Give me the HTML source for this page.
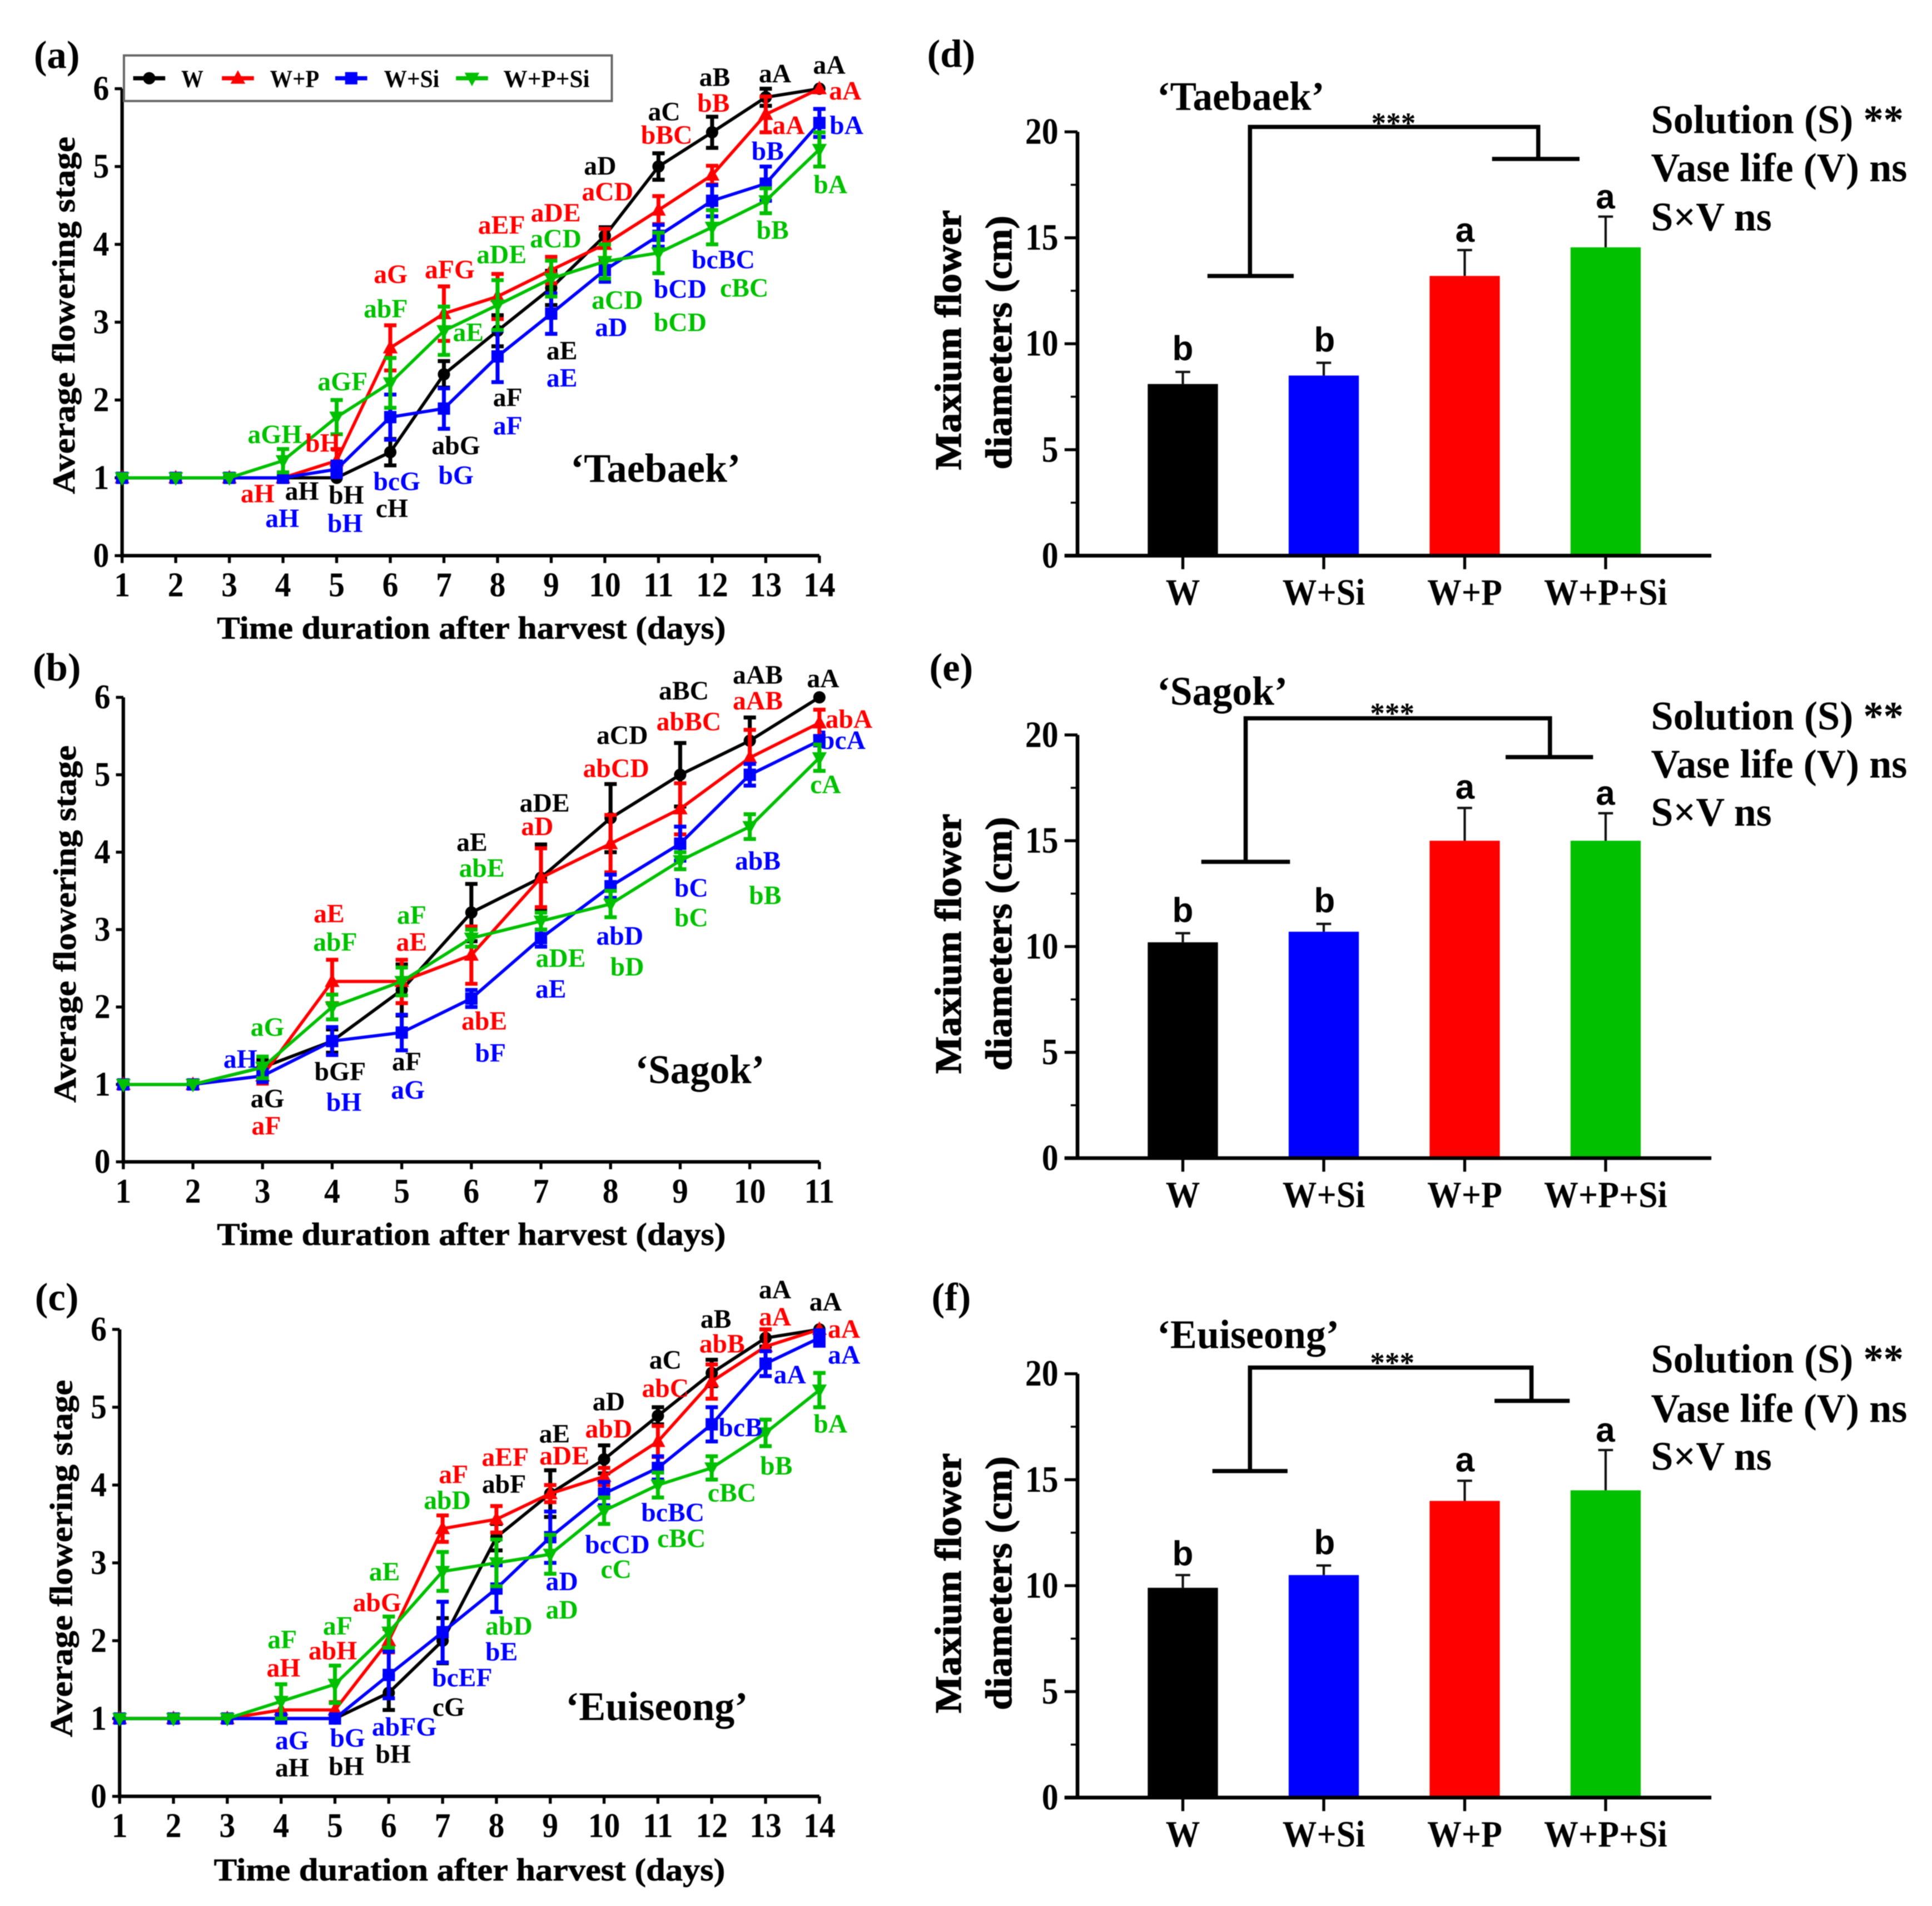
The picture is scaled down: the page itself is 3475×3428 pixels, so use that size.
<!DOCTYPE html>
<html lang="en">
<head>
<meta charset="utf-8">
<title>Flowering stage and flower diameter charts</title>
<style>
html,body{margin:0;padding:0;background:#fff;}
svg{display:block;filter:blur(0.8px);}
text{font-family:"Liberation Serif",serif;font-weight:bold;text-anchor:middle;dominant-baseline:central;}
.s{font-size:21.5px;}
.k{fill:#000;}.r{fill:#f00;}.b{fill:#00f;}.g{fill:#00c000;}
.tick{font-size:28px;}
.title{font-size:26px;stroke:#000;stroke-width:0.3px;}
.wide{font-size:30px;stroke:#000;stroke-width:0.6px;}
.panel{font-size:32px;}
.cv{font-size:33px;}
.stat{font-size:33px;text-anchor:start;}
.bx{font-size:30px;}
.sig{font-family:"Liberation Sans",sans-serif;font-size:28px;}
.leg{font-size:20px;}
</style>
</head>
<body>
<svg id="fig" xmlns="http://www.w3.org/2000/svg" width="3475" height="3428" viewBox="0 0 1568 1547">
<rect x="0" y="0" width="1568" height="1547" fill="#fff"/>
<g id="plots"></g>

<!-- legend -->
<g>
<rect x="100.5" y="45" width="396" height="37" fill="#fff" stroke="#666" stroke-width="1.8"/>
<text class="leg k" x="156" y="64" textLength="18" lengthAdjust="spacingAndGlyphs">W</text>
<text class="leg k" x="239" y="64" textLength="40" lengthAdjust="spacingAndGlyphs">W+P</text>
<text class="leg k" x="334" y="64" textLength="45" lengthAdjust="spacingAndGlyphs">W+Si</text>
<text class="leg k" x="443.5" y="64" textLength="70" lengthAdjust="spacingAndGlyphs">W+P+Si</text>
<g id="legend-marks"></g>
</g>

<!-- panel tags -->
<text class="panel k" x="46" y="45">(a)</text>
<text class="panel k" x="46" y="542">(b)</text>
<text class="panel k" x="46" y="1053">(c)</text>
<text class="panel k" x="772" y="44">(d)</text>
<text class="panel k" x="772" y="542">(e)</text>
<text class="panel k" x="772" y="1053">(f)</text>

<!-- axis titles -->
<text class="title k" x="382.5" y="510" textLength="413" lengthAdjust="spacingAndGlyphs">Time duration after harvest (days)</text>
<text class="title k" x="382.5" y="1002" textLength="413" lengthAdjust="spacingAndGlyphs">Time duration after harvest (days)</text>
<text class="title k" x="381" y="1518" textLength="415" lengthAdjust="spacingAndGlyphs">Time duration after harvest (days)</text>
<text class="title k" transform="translate(52,256) rotate(-90)" textLength="290" lengthAdjust="spacingAndGlyphs">Average flowering stage</text>
<text class="title k" transform="translate(53,750) rotate(-90)" textLength="290" lengthAdjust="spacingAndGlyphs">Average flowering stage</text>
<text class="title k" transform="translate(50,1265) rotate(-90)" textLength="290" lengthAdjust="spacingAndGlyphs">Average flowering stage</text>

<text class="wide k" transform="translate(770,276) rotate(-90)" textLength="211" lengthAdjust="spacingAndGlyphs">Maxium flower</text>
<text class="wide k" transform="translate(811,278) rotate(-90)" textLength="206" lengthAdjust="spacingAndGlyphs">diameters (cm)</text>
<text class="wide k" transform="translate(770,766) rotate(-90)" textLength="211" lengthAdjust="spacingAndGlyphs">Maxium flower</text>
<text class="wide k" transform="translate(811,766) rotate(-90)" textLength="206" lengthAdjust="spacingAndGlyphs">diameters (cm)</text>
<text class="wide k" transform="translate(770,1285) rotate(-90)" textLength="211" lengthAdjust="spacingAndGlyphs">Maxium flower</text>
<text class="wide k" transform="translate(811,1285) rotate(-90)" textLength="206" lengthAdjust="spacingAndGlyphs">diameters (cm)</text>

<!-- cultivar names -->
<text class="cv k" x="532" y="380" textLength="138" lengthAdjust="spacingAndGlyphs">‘Taebaek’</text>
<text class="cv k" x="568" y="868" textLength="105" lengthAdjust="spacingAndGlyphs">‘Sagok’</text>
<text class="cv k" x="533" y="1385" textLength="148" lengthAdjust="spacingAndGlyphs">‘Euiseong’</text>
<text class="cv k" x="1007" y="78" textLength="136" lengthAdjust="spacingAndGlyphs">‘Taebaek’</text>
<text class="cv k" x="992" y="561" textLength="106" lengthAdjust="spacingAndGlyphs">‘Sagok’</text>
<text class="cv k" x="1013" y="1083" textLength="148" lengthAdjust="spacingAndGlyphs">‘Euiseong’</text>

<!-- ANOVA text -->
<text class="stat k" x="1340" y="97" textLength="205" lengthAdjust="spacingAndGlyphs">Solution (S) **</text>
<text class="stat k" x="1340" y="136" textLength="208" lengthAdjust="spacingAndGlyphs">Vase life (V) ns</text>
<text class="stat k" x="1340" y="176" textLength="98" lengthAdjust="spacingAndGlyphs">S×V ns</text>
<text class="stat k" x="1340" y="581" textLength="205" lengthAdjust="spacingAndGlyphs">Solution (S) **</text>
<text class="stat k" x="1340" y="620" textLength="208" lengthAdjust="spacingAndGlyphs">Vase life (V) ns</text>
<text class="stat k" x="1340" y="659" textLength="98" lengthAdjust="spacingAndGlyphs">S×V ns</text>
<text class="stat k" x="1340" y="1103" textLength="205" lengthAdjust="spacingAndGlyphs">Solution (S) **</text>
<text class="stat k" x="1340" y="1143" textLength="208" lengthAdjust="spacingAndGlyphs">Vase life (V) ns</text>
<text class="stat k" x="1340" y="1182" textLength="98" lengthAdjust="spacingAndGlyphs">S×V ns</text>

<!-- brackets -->
<g fill="none" stroke="#000" stroke-width="3.4">
<path d="M980 224H1050M1014.5 224V103H1248.5V129M1211 129H1282"/>
<path d="M975 699.5H1047M1011 699.5V583H1258V614.5M1222 614.5H1293"/>
<path d="M984 1194H1045M1014.5 1194V1110H1243V1137M1213 1137H1274"/>
</g>
<text class="k" style="font-size:24px" x="1131" y="100">***</text>
<text class="k" style="font-size:24px" x="1130" y="579">***</text>
<text class="k" style="font-size:24px" x="1130" y="1106">***</text>

<!-- bar significance letters -->
<text class="sig k" x="960" y="283">b</text>
<text class="sig k" x="1075" y="276">b</text>
<text class="sig k" x="1189" y="187">a</text>
<text class="sig k" x="1303" y="160">a</text>
<text class="sig k" x="960" y="739">b</text>
<text class="sig k" x="1075" y="731">b</text>
<text class="sig k" x="1189" y="639">a</text>
<text class="sig k" x="1303" y="644">a</text>
<text class="sig k" x="960" y="1261">b</text>
<text class="sig k" x="1075" y="1252">b</text>
<text class="sig k" x="1189" y="1185">a</text>
<text class="sig k" x="1303" y="1161">a</text>

<!-- panel a letters -->
<g>
<text class="s k" x="245" y="399">aH</text>
<text class="s k" x="281" y="402">bH</text>
<text class="s k" x="318" y="413">cH</text>
<text class="s k" x="370" y="362">abG</text>
<text class="s k" x="412" y="323">aF</text>
<text class="s k" x="456" y="285">aE</text>
<text class="s k" x="487" y="135">aD</text>
<text class="s k" x="539" y="91">aC</text>
<text class="s k" x="580" y="63">aB</text>
<text class="s k" x="629" y="60">aA</text>
<text class="s k" x="673" y="53">aA</text>
<text class="s r" x="209" y="401">aH</text>
<text class="s r" x="262" y="360">bH</text>
<text class="s r" x="317" y="223">aG</text>
<text class="s r" x="365" y="219">aFG</text>
<text class="s r" x="407" y="183">aEF</text>
<text class="s r" x="451" y="173">aDE</text>
<text class="s r" x="493" y="156">aCD</text>
<text class="s r" x="541" y="110">bBC</text>
<text class="s r" x="579" y="84">bB</text>
<text class="s r" x="640" y="102">aA</text>
<text class="s r" x="686" y="74">aA</text>
<text class="s b" x="229" y="421">aH</text>
<text class="s b" x="280" y="425">bH</text>
<text class="s b" x="322" y="391">bcG</text>
<text class="s b" x="370" y="386">bG</text>
<text class="s b" x="412" y="346">aF</text>
<text class="s b" x="456" y="307">aE</text>
<text class="s b" x="496" y="266">aD</text>
<text class="s b" x="552" y="235">bCD</text>
<text class="s b" x="587" y="211">bcBC</text>
<text class="s b" x="623" y="123">bB</text>
<text class="s b" x="687" y="102">bA</text>
<text class="s g" x="223" y="353">aGH</text>
<text class="s g" x="278" y="310">aGF</text>
<text class="s g" x="313" y="251">abF</text>
<text class="s g" x="380" y="270">aE</text>
<text class="s g" x="407" y="207">aDE</text>
<text class="s g" x="451" y="194">aCD</text>
<text class="s g" x="501" y="244">aCD</text>
<text class="s g" x="552" y="262">bCD</text>
<text class="s g" x="604" y="234">cBC</text>
<text class="s g" x="627" y="187">bB</text>
<text class="s g" x="674" y="150">bA</text>
</g>

<!-- panel b letters -->
<g>
<text class="s k" x="217" y="892">aG</text>
<text class="s k" x="276" y="870">bGF</text>
<text class="s k" x="330" y="862">aF</text>
<text class="s k" x="383" y="684">aE</text>
<text class="s k" x="442" y="652">aDE</text>
<text class="s k" x="505" y="597">aCD</text>
<text class="s k" x="555" y="561">aBC</text>
<text class="s k" x="615" y="548">aAB</text>
<text class="s k" x="668" y="551">aA</text>
<text class="s r" x="216" y="914">aF</text>
<text class="s r" x="267" y="742">aE</text>
<text class="s r" x="334" y="765">aE</text>
<text class="s r" x="393" y="829">abE</text>
<text class="s r" x="436" y="671">aD</text>
<text class="s r" x="500" y="624">abCD</text>
<text class="s r" x="559" y="586">abBC</text>
<text class="s r" x="615" y="569">aAB</text>
<text class="s r" x="689" y="584">abA</text>
<text class="s b" x="195" y="860">aH</text>
<text class="s b" x="279" y="895">bH</text>
<text class="s b" x="331" y="885">aG</text>
<text class="s b" x="398" y="855">bF</text>
<text class="s b" x="447" y="803">aE</text>
<text class="s b" x="503" y="760">abD</text>
<text class="s b" x="561" y="721">bC</text>
<text class="s b" x="615" y="699">abB</text>
<text class="s b" x="684" y="601">bcA</text>
<text class="s g" x="217" y="834">aG</text>
<text class="s g" x="272" y="765">abF</text>
<text class="s g" x="334" y="743">aF</text>
<text class="s g" x="391" y="705">abE</text>
<text class="s g" x="455" y="778">aDE</text>
<text class="s g" x="509" y="785">bD</text>
<text class="s g" x="561" y="745">bC</text>
<text class="s g" x="621" y="727">bB</text>
<text class="s g" x="670" y="637">cA</text>
</g>

<!-- panel c letters -->
<g>
<text class="s k" x="237" y="1435">aH</text>
<text class="s k" x="281" y="1434">bH</text>
<text class="s k" x="319" y="1424">bH</text>
<text class="s k" x="364" y="1386">cG</text>
<text class="s k" x="409" y="1205">abF</text>
<text class="s k" x="450" y="1164">aE</text>
<text class="s k" x="494" y="1138">aD</text>
<text class="s k" x="540" y="1104">aC</text>
<text class="s k" x="581" y="1071">aB</text>
<text class="s k" x="629" y="1047">aA</text>
<text class="s k" x="670" y="1057">aA</text>
<text class="s r" x="230" y="1354">aH</text>
<text class="s r" x="270" y="1340">abH</text>
<text class="s r" x="306" y="1301">abG</text>
<text class="s r" x="368" y="1197">aF</text>
<text class="s r" x="410" y="1183">aEF</text>
<text class="s r" x="458" y="1182">aDE</text>
<text class="s r" x="494" y="1160">abD</text>
<text class="s r" x="540" y="1127">abC</text>
<text class="s r" x="586" y="1091">abB</text>
<text class="s r" x="629" y="1069">aA</text>
<text class="s r" x="685" y="1079">aA</text>
<text class="s b" x="237" y="1413">aG</text>
<text class="s b" x="282" y="1411">bG</text>
<text class="s b" x="328" y="1402">abFG</text>
<text class="s b" x="375" y="1362">bcEF</text>
<text class="s b" x="407" y="1341">bE</text>
<text class="s b" x="456" y="1284">aD</text>
<text class="s b" x="501" y="1254">bcCD</text>
<text class="s b" x="546" y="1228">bcBC</text>
<text class="s b" x="601" y="1159">bcB</text>
<text class="s b" x="641" y="1116">aA</text>
<text class="s b" x="685" y="1100">aA</text>
<text class="s g" x="229" y="1331">aF</text>
<text class="s g" x="274" y="1320">aF</text>
<text class="s g" x="312" y="1276">aE</text>
<text class="s g" x="363" y="1218">abD</text>
<text class="s g" x="413" y="1320">abD</text>
<text class="s g" x="456" y="1307">aD</text>
<text class="s g" x="500" y="1274">cC</text>
<text class="s g" x="553" y="1249">cBC</text>
<text class="s g" x="594" y="1212">cBC</text>
<text class="s g" x="630" y="1190">bB</text>
<text class="s g" x="674" y="1156">bA</text>
</g>
</svg>

<script>
// ---- line chart data ----
const daysA = [1,2,3,4,5,6,7,8,9,10,11,12,13,14];
const daysB = [1,2,3,4,5,6,7,8,9,10,11];
const daysC = [1,2,3,4,5,6,7,8,9,10,11,12,13,14];
const stageTicks = [0,1,2,3,4,5,6];

const wA     = [1,1,1,1,1,1.33,2.33,2.89,3.44,4.11,5,5.44,5.89,6];
const wErrA  = [0,0,0,0,0,0.17,0.17,0.2,0.22,0.11,0.17,0.2,0.11,0];
const wpA    = [1,1,1,1,1.22,2.67,3.11,3.33,3.67,4,4.44,4.89,5.67,6];
const wpErrA = [0,0,0,0,0.15,0.29,0.35,0.29,0.17,0.2,0.18,0.12,0.23,0];
const siA    = [1,1,1,1,1.11,1.78,1.89,2.56,3.11,3.67,4.11,4.56,4.78,5.56];
const siErrA = [0,0,0,0,0.1,0.29,0.26,0.33,0.26,0.15,0.14,0.2,0.22,0.18];
const wpsiA    = [1,1,1,1.22,1.78,2.22,2.89,3.22,3.56,3.78,3.89,4.22,4.56,5.22];
const wpsiErrA = [0,0,0,0.15,0.22,0.32,0.31,0.32,0.23,0.22,0.26,0.22,0.16,0.22];

const wB     = [1,1,1.22,1.56,2.22,3.22,3.67,4.44,5,5.44,6];
const wErrB  = [0,0,0.1,0.15,0.33,0.37,0.43,0.44,0.41,0.3,0];
const wpB    = [1,1,1.11,2.33,2.33,2.67,3.67,4.11,4.56,5.22,5.67];
const wpErrB = [0,0,0.1,0.28,0.28,0.37,0.38,0.37,0.33,0.36,0.17];
const siB    = [1,1,1.11,1.56,1.67,2.11,2.89,3.56,4.11,5,5.44];
const siErrB = [0,0,0.08,0.18,0.23,0.11,0.11,0.15,0.22,0.14,0.06];
const wpsiB    = [1,1,1.22,2,2.33,2.89,3.11,3.33,3.89,4.33,5.22];
const wpsiErrB = [0,0,0.14,0.16,0.18,0.11,0.11,0.17,0.11,0.16,0.17];

const wC     = [1,1,1,1,1,1.33,2,3.33,3.89,4.33,4.89,5.44,5.89,6];
const wErrC  = [0,0,0,0,0,0.22,0.29,0.17,0.3,0.18,0.11,0.17,0.11,0];
const wpC    = [1,1,1,1.11,1.11,2,3.44,3.56,3.89,4.11,4.56,5.33,5.78,6];
const wpErrC = [0,0,0,0,0.1,0.15,0.17,0.17,0.11,0.11,0.2,0.22,0.22,0];
const siC    = [1,1,1,1,1,1.56,2.11,2.67,3.33,3.89,4.22,4.78,5.56,5.89];
const siErrC = [0,0,0,0,0,0.3,0.39,0.3,0.33,0.15,0.15,0.22,0.16,0.1];
const wpsiC    = [1,1,1,1.22,1.44,2.11,2.89,3,3.11,3.67,4,4.22,4.67,5.22];
const wpsiErrC = [0,0,0,0.22,0.24,0.2,0.25,0.3,0.25,0.17,0.16,0.15,0.17,0.22];

// ---- bar chart data ----
const barCategories = ['W','W+Si','W+P','W+P+Si'];
const diameterTicks = [0,5,10,15,20];
const diameterMinorTicks = [2.5,7.5,12.5,17.5];
const diamD    = [8.1,8.5,13.2,14.55];
const diamErrD = [0.57,0.6,1.22,1.45];
const diamE    = [10.2,10.7,15,15];
const diamErrE = [0.43,0.37,1.55,1.3];
const diamF    = [9.9,10.5,14,14.5];
const diamErrF = [0.6,0.45,0.95,1.9];

const COLORS = {w:'#000',wp:'#f00',si:'#00f',wpsi:'#00c000'};
const BAR_COLORS = ['#000','#00f','#f00','#00c000'];
const NS = 'http://www.w3.org/2000/svg';
const plots = document.getElementById('plots');

function mk(tag, attrs, parent, txt){
  const e = document.createElementNS(NS, tag);
  for (const k in attrs) e.setAttribute(k, attrs[k]);
  if (txt !== undefined) e.textContent = txt;
  parent.appendChild(e);
  return e;
}

function squeeze(t, f){
  t.setAttribute('textLength', (t.getComputedTextLength() * f).toFixed(1));
  t.setAttribute('lengthAdjust', 'spacingAndGlyphs');
}

function marker(kind, x, y, parent){
  let m;
  if (kind === 'w') m = mk('circle', {cx:x, cy:y, r:5, fill:COLORS.w}, parent);
  else if (kind === 'wp') m = mk('polygon', {points:[x,y-6.5,x+6,y+4.5,x-6,y+4.5].join(' '), fill:COLORS.wp}, parent);
  else if (kind === 'si') m = mk('rect', {x:x-5, y:y-5, width:10, height:10, fill:COLORS.si}, parent);
  else m = mk('polygon', {points:[x-6,y-4.5,x+6,y-4.5,x,y+6.5].join(' '), fill:COLORS.wpsi}, parent);
  
  
  return m;
}

function drawLinePanel(id, days, series, box){
  const g = mk('g', {}, plots);
  
  
  const xs = d => box.x0 + (d - days[0]) * (box.x1 - box.x0) / (days[days.length-1] - days[0]);
  const ys = v => box.y0 + v * (box.y6 - box.y0) / 6;
  // axes
  const ax = mk('path', {d:'M'+xs(days[0])+' '+ys(6)+'V'+ys(0)+'H'+xs(days[days.length-1]), fill:'none', stroke:'#000', 'stroke-width':2.8}, g);
  
  
  days.forEach(d => {
    const t = mk('line', {x1:xs(d), x2:xs(d), y1:ys(0), y2:ys(0)+6, stroke:'#000', 'stroke-width':2.4}, g);
    
    
    const l = mk('text', {x:xs(d), y:ys(0)+24, class:'tick k'}, g, String(d));
    
    
    squeeze(l, 0.93);
  });
  stageTicks.forEach(v => {
    const t = mk('line', {x1:xs(days[0])-6, x2:xs(days[0]), y1:ys(v), y2:ys(v), stroke:'#000', 'stroke-width':2.4}, g);
    
    
    const l = mk('text', {x:xs(days[0])-17, y:ys(v), class:'tick k'}, g, String(v));
    
    
    squeeze(l, 0.93);
  });
  series.forEach(s => {
    const sg = mk('g', {}, g);
    
    
    const c = COLORS[s.kind];
    s.vals.forEach((v, i) => {
      const e = s.err[i];
      if (e > 0){
        const x = xs(days[i]);
        const b = mk('path', {d:'M'+x+' '+ys(v-e)+'V'+ys(v+e)+'M'+(x-5)+' '+ys(v+e)+'H'+(x+5)+'M'+(x-5)+' '+ys(v-e)+'H'+(x+5), fill:'none', stroke:c, 'stroke-width':3.2}, sg);
        
        
      }
    });
    const ln = mk('polyline', {points:s.vals.map((v,i) => xs(days[i])+','+ys(v)).join(' '), fill:'none', stroke:c, 'stroke-width':2.6}, sg);
    
    
    s.vals.forEach((v, i) => marker(s.kind, xs(days[i]), ys(v), sg));
  });
}

function drawBarPanel(id, vals, errs, box){
  const g = mk('g', {}, plots);
  
  
  const ys = v => box.y0 + v * (box.y20 - box.y0) / 20;
  const cx = i => 960 + i * 114.4;
  vals.forEach((v, i) => {
    const er = mk('path', {d:'M'+cx(i)+' '+ys(v)+'V'+ys(v+errs[i])+'M'+(cx(i)-6)+' '+ys(v+errs[i])+'H'+(cx(i)+6), fill:'none', stroke:'#111', 'stroke-width':1.9}, g);
    
    
    const b = mk('rect', {x:cx(i)-28.5, y:ys(v), width:57, height:ys(0)-ys(v), fill:BAR_COLORS[i]}, g);
    
    
    const t = mk('line', {x1:cx(i), x2:cx(i), y1:ys(0), y2:ys(0)+11, stroke:'#000', 'stroke-width':2.4}, g);
    
    
    const l = mk('text', {x:cx(i), y:ys(0)+30, class:'bx k'}, g, barCategories[i]);
    
    
    squeeze(l, 0.93);
  });
  const ax = mk('path', {d:'M874.5 '+ys(20)+'V'+ys(0)+'M864 '+ys(0)+'H1389', fill:'none', stroke:'#000', 'stroke-width':3}, g);
  
  
  diameterTicks.forEach(v => {
    const t = mk('line', {x1:864, x2:874.5, y1:ys(v), y2:ys(v), stroke:'#000', 'stroke-width':2.4}, g);
    
    
    const l = mk('text', {x:859, y:ys(v), class:'bx k', style:'text-anchor:end'}, g, String(v));
    
    
    squeeze(l, 0.9);
  });
  diameterMinorTicks.forEach(v => {
    const t = mk('line', {x1:869, x2:874.5, y1:ys(v), y2:ys(v), stroke:'#000', 'stroke-width':1.6}, g);
    
    
  });
}

drawLinePanel('a', daysA, [
  {kind:'w', vals:wA, err:wErrA},
  {kind:'wp', vals:wpA, err:wpErrA},
  {kind:'si', vals:siA, err:siErrA},
  {kind:'wpsi', vals:wpsiA, err:wpsiErrA}
], {x0:99, x1:665, y0:451, y6:72});
drawLinePanel('b', daysB, [
  {kind:'w', vals:wB, err:wErrB},
  {kind:'wp', vals:wpB, err:wpErrB},
  {kind:'si', vals:siB, err:siErrB},
  {kind:'wpsi', vals:wpsiB, err:wpsiErrB}
], {x0:100, x1:665, y0:943, y6:566});
drawLinePanel('c', daysC, [
  {kind:'w', vals:wC, err:wErrC},
  {kind:'wp', vals:wpC, err:wpErrC},
  {kind:'si', vals:siC, err:siErrC},
  {kind:'wpsi', vals:wpsiC, err:wpsiErrC}
], {x0:97, x1:665, y0:1458, y6:1079});

drawBarPanel('d', diamD, diamErrD, {y0:451, y20:107});
drawBarPanel('e', diamE, diamErrE, {y0:940, y20:596.5});
drawBarPanel('f', diamF, diamErrF, {y0:1459, y20:1115});

// legend swatches
const lg = document.getElementById('legend-marks');
[['w',121],['wp',193],['si',285],['wpsi',383]].forEach(p => {
  const l = mk('line', {x1:p[1]-13, x2:p[1]+13, y1:63.5, y2:63.5, stroke:COLORS[p[0]], 'stroke-width':3.4}, lg);
  
  
  marker(p[0], p[1], 63.5, lg);
});
</script>
</body>
</html>
